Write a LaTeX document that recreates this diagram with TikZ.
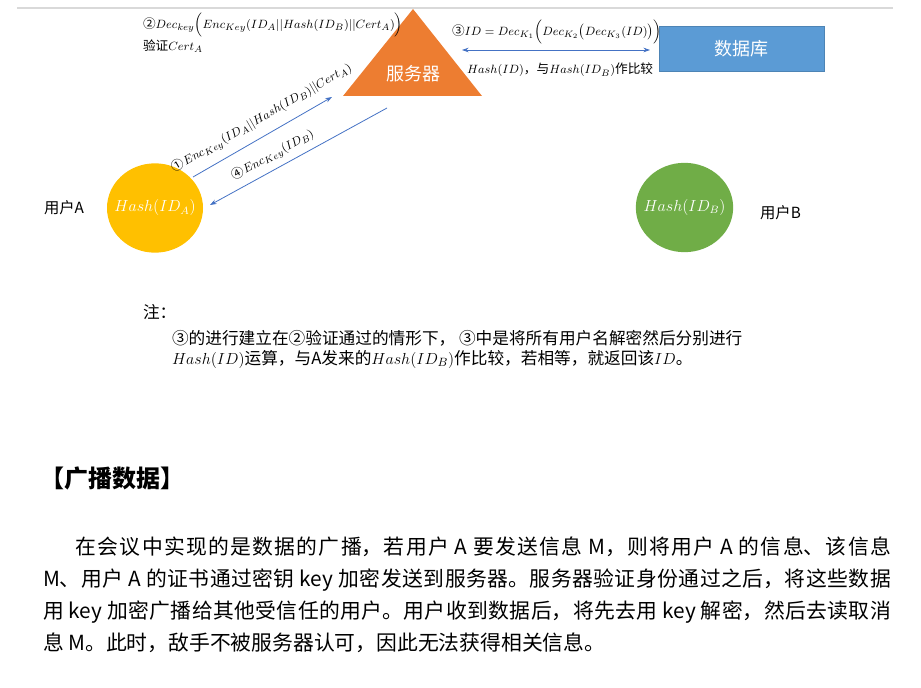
\documentclass[tikz,border=0pt]{standalone}
\usepackage{fontspec}
\newfontfamily\cjk{Noto Sans CJK SC}
\usetikzlibrary{arrows.meta,shapes.geometric}
\definecolor{orangeT}{HTML}{ED7D31}
\definecolor{blueDB}{HTML}{5B9BD5}
\definecolor{yellowA}{HTML}{FFC000}
\definecolor{greenB}{HTML}{70AD47}
\definecolor{arrowblue}{HTML}{4472C4}
\definecolor{rulegray}{HTML}{D9D9D9}
\newcommand{\cn}[1]{{\cjk #1}}
\begin{document}
\begin{tikzpicture}[x=0.75pt,y=-0.75pt,
  every node/.style={inner sep=0pt,outer sep=0pt},
  conn/.style={draw=arrowblue,line width=0.6pt,-{Stealth[length=5pt,width=3.5pt]}},
  lbl/.style={font=\fontsize{9.5}{11}\selectfont},
  whitecn/.style={text=white,font=\cjk\fontsize{13.5}{16}\selectfont},
  usr/.style={font=\cjk\fontsize{11.5}{14}\selectfont},
  ball/.style={ellipse,minimum width=72pt,minimum height=67pt},
  balltxt/.style={text=white,font=\fontsize{12}{14}\selectfont},
  note/.style={font=\cjk\fontsize{12.5}{15}\selectfont,anchor=west},
]
\useasboundingbox (0,0) rectangle (921,688);
\draw[rulegray,line width=1.4pt] (17,8) -- (893,8);

% server
\fill[orangeT] (413,9) -- (482,96) -- (343,96) -- cycle;
\node[whitecn] (server) at (413,74) {服务器};

% database
\node[fill=blueDB,draw=blueDB!85!black,line width=0.4pt,minimum width=123.75pt,minimum height=33.75pt,whitecn] (db) at (741.5,48.5) {数据库};

% users
\node[ball,fill=yellowA] (ua) at (155,208) {};
\node[balltxt] (uatxt) at (ua.center) {$Hash(ID_A)$};
\node[ball,fill=greenB,minimum width=73pt] (ub) at (684.5,207.5) {};
\node[balltxt] (ubtxt) at (ub.center) {$Hash(ID_B)$};
\node[usr] (ualbl) at (64,208) {用户A};
\node[usr] (ublbl) at (780.5,213) {用户B};

% arrow ends
\coordinate (a1s) at (193,177);
\coordinate (a1e) at (332,97);
\coordinate (a4s) at (387,108);
\coordinate (a4e) at (210,205);
\coordinate (a3l) at (462,50);
\coordinate (a3r) at (650,50);

\draw[conn] (a1s) -- (a1e);
\draw[conn] (a4s) -- (a4e);
\draw[conn,{Stealth[length=5pt,width=3.5pt]}-{Stealth[length=5pt,width=3.5pt]}] (a3l) -- (a3r);

% labels
\node[lbl,rotate=30] (l1) at (262,118) {\cn{①}$Enc_{Key}(ID_A||Hash(ID_B)||Cert_A)$};
\node[lbl,rotate=29] (l4) at (273,155) {\cn{④}$Enc_{Key}(ID_B)$};
\node[lbl,anchor=west] (l2) at (143,25) {\cn{②}$Dec_{key}\Bigl(Enc_{Key}(ID_A||Hash(ID_B)||Cert_A)\Bigr)$};
\node[lbl,anchor=west] (l2b) at (143,46) {\cn{验证}$Cert_A$};
\node[lbl,anchor=west] (l3) at (452,32) {\cn{③}$ID=Dec_{K_1}\Bigl(Dec_{K_2}\bigl(Dec_{K_3}(ID)\bigr)\Bigr)$};
\node[lbl,anchor=west] (l3b) at (467,70) {$Hash(ID)$\cn{，与}$Hash(ID_B)$\cn{作比较}};

% note
\node[note] (n0) at (143,312) {注：};
\node[note] (n1) at (172,338) {③的进行建立在②验证通过的情形下， ③中是将所有用户名解密然后分别进行};
\node[note] (n2) at (172,359) {$Hash(ID)$运算，与A发来的$Hash(ID_B)$作比较，若相等，就返回该$ID$。};

% heading
\node[anchor=west,font=\cjk\bfseries\fontsize{18}{20}\selectfont] (hd) at (40,478) {【广播数据】};

% paragraph
\node[anchor=north west] (para) at (43,537) {\parbox{636pt}{\cjk\fontsize{15.6}{24}\selectfont
\XeTeXlinebreaklocale "zh"\XeTeXlinebreakskip=0pt plus 2pt
\parindent=24.5pt\indent 在会议中实现的是数据的广播，若用户 A 要发送信息 M，则将用户 A 的信息、该信息\linebreak
M、用户 A 的证书通过密钥 key 加密发送到服务器。服务器验证身份通过之后，将这些数据\linebreak
用 key 加密广播给其他受信任的用户。用户收到数据后，将先去用 key 解密，然后去读取消\linebreak
息 M。此时，敌手不被服务器认可，因此无法获得相关信息。}};
\end{tikzpicture}
\end{document}
